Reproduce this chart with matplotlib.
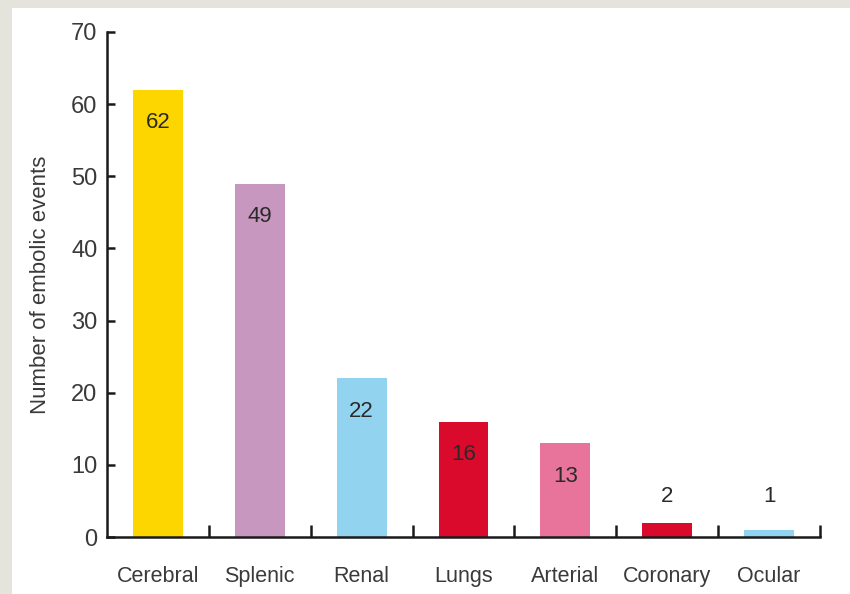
import numpy as np
import matplotlib
matplotlib.use("Agg")
import matplotlib.pyplot as plt
from matplotlib.patches import Rectangle

plt.rcParams['font.family'] = ['Liberation Sans', 'DejaVu Sans']

# embolic events by site
sites = ['Cerebral', 'Splenic', 'Renal', 'Lungs', 'Arterial', 'Coronary', 'Ocular']
events = [62, 49, 22, 16, 13, 2, 1]
colors = ['#fdd600', '#c897bf', '#92d4ef', '#da0a2c', '#e8749b', '#da0a2c', '#92d4ef']

fig = plt.figure(figsize=(8.5, 5.94), dpi=100, facecolor='#e4e4dc')
# white card on the grey page
fig.patches.append(Rectangle((12 / 850, 0), 1, 1 - 8 / 594, transform=fig.transFigure,
                             facecolor='white', edgecolor='none', zorder=-5))

ax = fig.add_axes([107 / 850, 1 - 537 / 594, (820 - 107) / 850, (537 - 32) / 594])
ax.set_facecolor('none')

x = np.arange(len(sites))
ax.bar(x, events, width=0.49, color=colors, zorder=2)

for xi, v in zip(x, events):
    if v >= 10:
        ax.text(xi, v - 4.6, str(v), ha='center', va='center', fontsize=16, color='#2a2a2a', zorder=3)
    else:
        # short bars get their count above
        ax.text(xi, 5.6, str(v), ha='center', va='center', fontsize=16, color='#2a2a2a', zorder=3)

ax.set_xlim(-0.5, len(sites) - 0.5)
ax.set_ylim(0, 70)

for side in ['top', 'right']:
    ax.spines[side].set_visible(False)
for side in ['left', 'bottom']:
    ax.spines[side].set_linewidth(1.8)
    ax.spines[side].set_color('#1a1a1a')

ax.set_yticks(range(0, 71, 10))
ax.tick_params(axis='y', direction='in', length=6, width=1.8, pad=7,
               labelsize=17, labelcolor='#3a3a3a', color='#1a1a1a')

ax.set_xticks(x)
ax.set_xticklabels(sites)
ax.set_xticks(np.arange(0.5, len(sites), 1), minor=True)
ax.tick_params(axis='x', which='major', length=0, pad=21, labelsize=15.5, labelcolor='#3a3a3a')
ax.tick_params(axis='x', which='minor', direction='in', length=9, width=1.8, color='#1a1a1a')

ax.set_ylabel('Number of embolic events', fontsize=16, color='#3a3a3a', labelpad=14)

fig.savefig('out.png', dpi=100, facecolor=fig.get_facecolor())
